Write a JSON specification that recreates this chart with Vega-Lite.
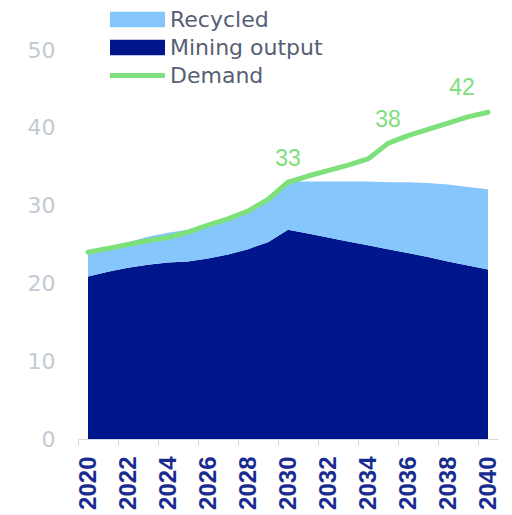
{
  "$schema": "https://vega.github.io/schema/vega-lite/v6.json",
  "width": 420,
  "height": 389,
  "autosize": {"type": "none"},
  "padding": {"left": 78, "top": 50, "right": 14, "bottom": 76},
  "config": {"view": {"stroke": null}, "font": "DejaVu Sans"},
  "datasets": {
    "areas": [
      {"year": 2020, "series": "Mining output", "value": 20.9}, {"year": 2020, "series": "Recycled", "value": 3.1},
      {"year": 2021, "series": "Mining output", "value": 21.5}, {"year": 2021, "series": "Recycled", "value": 3.1},
      {"year": 2022, "series": "Mining output", "value": 22.0}, {"year": 2022, "series": "Recycled", "value": 3.3},
      {"year": 2023, "series": "Mining output", "value": 22.4}, {"year": 2023, "series": "Recycled", "value": 3.6},
      {"year": 2024, "series": "Mining output", "value": 22.7}, {"year": 2024, "series": "Recycled", "value": 3.8},
      {"year": 2025, "series": "Mining output", "value": 22.8}, {"year": 2025, "series": "Recycled", "value": 4.1},
      {"year": 2026, "series": "Mining output", "value": 23.2}, {"year": 2026, "series": "Recycled", "value": 4.4},
      {"year": 2027, "series": "Mining output", "value": 23.7}, {"year": 2027, "series": "Recycled", "value": 4.7},
      {"year": 2028, "series": "Mining output", "value": 24.4}, {"year": 2028, "series": "Recycled", "value": 5.0},
      {"year": 2029, "series": "Mining output", "value": 25.3}, {"year": 2029, "series": "Recycled", "value": 5.7},
      {"year": 2030, "series": "Mining output", "value": 26.9}, {"year": 2030, "series": "Recycled", "value": 6.2},
      {"year": 2031, "series": "Mining output", "value": 26.4}, {"year": 2031, "series": "Recycled", "value": 6.7},
      {"year": 2032, "series": "Mining output", "value": 25.9}, {"year": 2032, "series": "Recycled", "value": 7.2},
      {"year": 2033, "series": "Mining output", "value": 25.4}, {"year": 2033, "series": "Recycled", "value": 7.7},
      {"year": 2034, "series": "Mining output", "value": 24.9}, {"year": 2034, "series": "Recycled", "value": 8.2},
      {"year": 2035, "series": "Mining output", "value": 24.4}, {"year": 2035, "series": "Recycled", "value": 8.6},
      {"year": 2036, "series": "Mining output", "value": 23.9}, {"year": 2036, "series": "Recycled", "value": 9.1},
      {"year": 2037, "series": "Mining output", "value": 23.4}, {"year": 2037, "series": "Recycled", "value": 9.5},
      {"year": 2038, "series": "Mining output", "value": 22.8}, {"year": 2038, "series": "Recycled", "value": 9.9},
      {"year": 2039, "series": "Mining output", "value": 22.3}, {"year": 2039, "series": "Recycled", "value": 10.1},
      {"year": 2040, "series": "Mining output", "value": 21.8}, {"year": 2040, "series": "Recycled", "value": 10.3}
    ],
    "demand": [
      {"year": 2020, "demand": 24.0}, {"year": 2021, "demand": 24.5}, {"year": 2022, "demand": 25.0},
      {"year": 2023, "demand": 25.5}, {"year": 2024, "demand": 25.9}, {"year": 2025, "demand": 26.6},
      {"year": 2026, "demand": 27.5}, {"year": 2027, "demand": 28.3}, {"year": 2028, "demand": 29.3},
      {"year": 2029, "demand": 30.8}, {"year": 2030, "demand": 33.0, "label": "33"}, {"year": 2031, "demand": 33.8},
      {"year": 2032, "demand": 34.5}, {"year": 2033, "demand": 35.2}, {"year": 2034, "demand": 36.0},
      {"year": 2035, "demand": 38.0, "label": "38"}, {"year": 2036, "demand": 39.0}, {"year": 2037, "demand": 39.8},
      {"year": 2038, "demand": 40.6}, {"year": 2039, "demand": 41.4}, {"year": 2040, "demand": 42.0, "label": "42"}
    ]
  },
  "layer": [
    {
      "data": {"name": "areas"},
      "mark": {"type": "area", "interpolate": "linear"},
      "encoding": {
        "x": {
          "field": "year", "type": "quantitative",
          "scale": {"domain": [2019.5, 2040.5], "nice": false, "zero": false},
          "axis": {
            "title": null, "grid": false,
            "values": [2020, 2021, 2022, 2023, 2024, 2025, 2026, 2027, 2028, 2029, 2030, 2031, 2032, 2033, 2034, 2035, 2036, 2037, 2038, 2039, 2040, 2041],
            "format": "d",
            "labelOpacity": {"condition": {"test": "datum.value % 2 === 0 && datum.value <= 2040", "value": 1}, "value": 0},
            "labelAngle": 270,
            "labelFont": "Liberation Sans", "labelFontWeight": "bold", "labelFontSize": 24, "labelColor": "#1a2b8f",
            "labelPadding": 11, "labelOverlap": false,
            "tickOffset": -10, "labelOffset": 10,
            "tickSize": 6, "tickColor": "#d3d8de",
            "domainColor": "#d3d8de"
          }
        },
        "y": {
          "field": "value", "type": "quantitative", "stack": "zero",
          "scale": {"domain": [0, 50], "nice": false},
          "axis": {
            "title": null, "grid": false, "domain": false, "ticks": false,
            "values": [0, 10, 20, 30, 40, 50],
            "labelFont": "DejaVu Sans", "labelFontSize": 22, "labelColor": "#c3cad3", "labelPadding": 23
          }
        },
        "order": {"field": "series", "sort": "ascending"},
        "color": {
          "field": "series", "type": "nominal",
          "scale": {"domain": ["Recycled", "Mining output", "Demand"], "range": ["#85c6fc", "#00168c", "#7ee07a"]},
          "legend": {
            "orient": "none", "legendX": 32, "legendY": -44.5, "direction": "vertical",
            "title": null, "padding": 0, "rowPadding": 0, "clipHeight": 28,
            "labelFont": "DejaVu Sans", "labelFontSize": 22, "labelColor": "#566075", "labelOffset": 5,
            "symbolSize": 3025, "symbolStrokeWidth": 0, "symbolOpacity": 1,
            "encode": {
              "symbols": {
                "update": {
                  "shape": {"signal": "datum.value === 'Demand' ? 'M-1,-0.09H1V0.09H-1Z' : 'M-1,-0.28H1V0.28H-1Z'"},
                  "strokeWidth": {"value": 0}
                }
              }
            }
          }
        }
      }
    },
    {
      "data": {"name": "demand"},
      "mark": {"type": "line", "color": "#7ee07a", "strokeWidth": 5, "strokeCap": "round", "strokeJoin": "round"},
      "encoding": {
        "x": {"field": "year", "type": "quantitative"},
        "y": {"field": "demand", "type": "quantitative"}
      }
    },
    {
      "data": {"name": "demand"},
      "transform": [{"filter": {"field": "label", "valid": true}}, {"filter": "datum.year < 2040"}],
      "mark": {"type": "text", "dy": -23, "baseline": "middle", "align": "center", "font": "Liberation Sans", "fontSize": 23, "color": "#7ee07a"},
      "encoding": {
        "x": {"field": "year", "type": "quantitative"},
        "y": {"field": "demand", "type": "quantitative"},
        "text": {"field": "label"}
      }
    },
    {
      "data": {"name": "demand"},
      "transform": [{"filter": {"field": "label", "valid": true}}, {"filter": "datum.year == 2040"}],
      "mark": {"type": "text", "dx": -26, "dy": -24, "baseline": "middle", "align": "center", "font": "Liberation Sans", "fontSize": 23, "color": "#7ee07a"},
      "encoding": {
        "x": {"field": "year", "type": "quantitative"},
        "y": {"field": "demand", "type": "quantitative"},
        "text": {"field": "label"}
      }
    }
  ]
}
